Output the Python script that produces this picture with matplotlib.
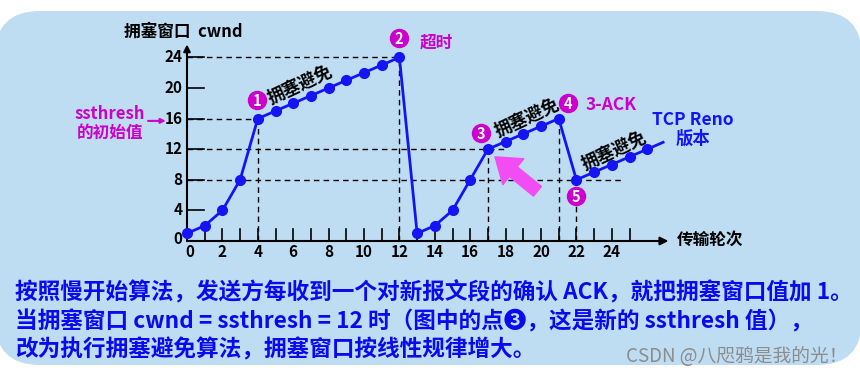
import matplotlib.pyplot as plt
from matplotlib.patches import FancyBboxPatch

plt.rcParams['font.family'] = ['Noto Sans CJK SC', 'DejaVu Sans']

# transmission rounds and congestion window (TCP Reno)
rounds = list(range(27))
cwnd = [1, 2, 4, 8, 16, 17, 18, 19, 20, 21, 22, 23, 24,
        1, 2, 4, 8, 12, 13, 14, 15, 16,
        8, 9, 10, 11, 12]
tail_x = [26, 26.9]          # line keeps going after the last point
tail_y = [12, 12.9]

y_ticks = [4, 8, 12, 16, 20, 24]
y_labels = ['4', '8', '12', '16', '20', '24']
x_ticks = list(range(1, 26))
x_labels = [str(v) for v in range(0, 25, 2)]

# dashed guide lines: (y, x from, x to) and (x, y from, y to)
h_guides = [(24, 0, 12), (16, 0, 4), (12, 0, 18), (8, 0, 24.6)]
v_guides = [(4, 0, 16), (12, 0, 24), (17, 0, 12), (21, 0, 16), (22, 0, 8)]

notes = [
    '按照慢开始算法，发送方每收到一个对新报文段的确认 ACK，就把拥塞窗口值加 1。',
    '当拥塞窗口 cwnd = ssthresh = 12 时（图中的点❸，这是新的 ssthresh 值），',
    '改为执行拥塞避免算法，拥塞窗口按线性规律增大。',
]

BG = '#BEDDF2'
BLUE = '#1414F5'
MAG = '#CC00CC'

fig = plt.figure(figsize=(8.6, 3.82), dpi=100)
fig.patch.set_facecolor('white')
bg = FancyBboxPatch((-0.05, 0.17), 8.67, 3.54,
                    boxstyle='round,pad=0,rounding_size=0.45',
                    transform=fig.dpi_scale_trans, facecolor=BG,
                    edgecolor='none', zorder=-10)
fig.patches.append(bg)

ax = fig.add_axes([0, 0, 1, 1])
ax.set_xlim(-187 / 17.7, (860 - 187) / 17.7)
ax.set_ylim((241 - 382) / 7.65, 241 / 7.65)
ax.axis('off')
ax.patch.set_alpha(0)

# axes with arrows
ax.annotate('', xy=(0, 25.7), xytext=(0, 0),
            arrowprops=dict(arrowstyle='-|>', color='black', lw=1.5,
                            mutation_scale=10, shrinkA=0, shrinkB=0))
ax.annotate('', xy=(27.2, 0), xytext=(0, 0),
            arrowprops=dict(arrowstyle='-|>', color='black', lw=1.5,
                            mutation_scale=12, shrinkA=0, shrinkB=0))

# ticks
for yv, lab in zip(y_ticks, y_labels):
    ax.plot([0, 0.95], [yv, yv], color='black', lw=1.2)
    ax.text(-0.25, yv, lab, ha='right', va='center', fontsize=11,
            fontweight='bold')
ax.text(-0.25, 0.2, '0', ha='right', va='center', fontsize=11,
        fontweight='bold')
for xv in x_ticks:
    ax.plot([xv, xv], [0, 1.6], color='black', lw=1.2)
for i, lab in enumerate(x_labels):
    ax.text(int(lab) + (0.15 if i == 0 else 0), -0.4, lab, ha='center',
            va='top', fontsize=11, fontweight='bold')

# dashed guides
for yv, x0, x1 in h_guides:
    ax.plot([x0, x1], [yv, yv], color='black', lw=1, ls=(0, (4, 3)))
for xv, y0, y1 in v_guides:
    ax.plot([xv, xv], [y0, y1], color='black', lw=1, ls=(0, (4, 3)))

# the cwnd curve
ax.plot(tail_x, tail_y, color=BLUE, lw=2, zorder=4)
ax.plot(rounds, cwnd, color=BLUE, lw=2, marker='o', markersize=7,
        zorder=5)

# axis titles
ax.text(-3.56, 27.3, '拥塞窗口  cwnd', ha='left', va='center', fontsize=12,
        fontweight='bold')
ax.text(27.7, 0.1, '传输轮次', ha='left', va='center', fontsize=12,
        fontweight='bold')

# circled markers
circles = [('1', 3.95, 18.4), ('2', 11.98, 26.5), ('3', 16.6, 14.1),
           ('4', 21.5, 18.0), ('5', 22.0, 5.9)]
for num, cx, cy in circles:
    ax.plot(cx, cy, 'o', color=MAG, markersize=13, zorder=6)
    ax.text(cx, cy - 0.1, num, ha='center', va='center', color='white',
            fontsize=10.5, fontweight='bold', zorder=7)

ax.text(13.16, 25.9, '超时', ha='left', va='center', color=MAG, fontsize=12,
        fontweight='bold')
ax.text(22.5, 17.8, '3-ACK', ha='left', va='center', color=MAG, fontsize=12.5,
        fontweight='bold')
ax.text(-4.35, 15.4, 'ssthresh\n的初始值', ha='center', va='center', color=MAG,
        fontsize=12, fontweight='bold', linespacing=1.05)
ax.annotate('', xy=(-1.2, 15.7), xytext=(-2.2, 15.7),
            arrowprops=dict(arrowstyle='-|>', color=MAG, lw=1.5,
                            mutation_scale=7, shrinkA=0, shrinkB=0))

# congestion avoidance labels
for cx, cy in [(6.4, 20.5), (19.2, 16.1), (24.1, 11.8)]:
    ax.text(cx, cy, '拥塞避免', ha='center', va='center', rotation=25,
            fontsize=12.5, fontweight='bold', color='black',
            rotation_mode='anchor')

ax.text(28.6, 14.6, 'TCP Reno\n版本', ha='center', va='center', color=BLUE,
        fontsize=12.5, fontweight='bold', linespacing=1.05)

# pink arrow pointing at point 3
ax.annotate('', xy=(17.4, 11.0), xytext=(19.8, 6.5),
            arrowprops=dict(arrowstyle='simple,head_width=2.4,head_length=1.7,tail_width=0.9',
                            color='#F24DF2', mutation_scale=10,
                            shrinkA=0, shrinkB=0))

# explanation text
for i, line in enumerate(notes):
    fig.text(15 / 860, 1 - (293 + 28.5 * i) / 382, line, ha='left',
             va='center', fontsize=16.3, fontweight='bold', color='#0A0AF0')

fig.text(848 / 860, 1 - 357 / 382, 'CSDN @八咫鸦是我的光！', ha='right',
         va='center', fontsize=13.5, color='#8C8C8C')

fig.savefig('out.png', dpi=100, facecolor='white')
